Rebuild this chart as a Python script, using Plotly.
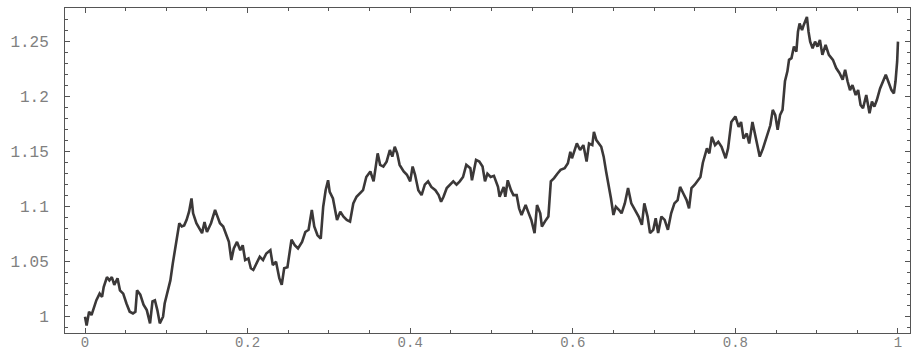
import plotly.graph_objects as go

# Path (time t, value)
t = [0.000, 0.002, 0.005, 0.008, 0.010, 0.014, 0.018, 0.021, 0.023, 0.027,
     0.030, 0.033, 0.036, 0.040, 0.043, 0.047, 0.051, 0.055, 0.059, 0.062,
     0.064, 0.068, 0.072, 0.076, 0.080, 0.083, 0.086, 0.089, 0.092, 0.096,
     0.098, 0.101, 0.105, 0.108, 0.111, 0.113, 0.116, 0.119, 0.122, 0.125,
     0.128, 0.131, 0.133, 0.137, 0.141, 0.144, 0.147, 0.150, 0.155, 0.160,
     0.163, 0.166, 0.170, 0.174, 0.177, 0.180, 0.183, 0.187, 0.191, 0.194,
     0.197, 0.201, 0.204, 0.207, 0.211, 0.215, 0.219, 0.223, 0.228, 0.231,
     0.235, 0.239, 0.242, 0.245, 0.249, 0.252, 0.254, 0.258, 0.262, 0.267,
     0.271, 0.275, 0.279, 0.282, 0.286, 0.290, 0.293, 0.296, 0.299, 0.301,
     0.305, 0.310, 0.314, 0.318, 0.322, 0.326, 0.330, 0.334, 0.338, 0.342,
     0.346, 0.351, 0.355, 0.358, 0.360, 0.363, 0.367, 0.371, 0.375, 0.378,
     0.381, 0.384, 0.387, 0.392, 0.396, 0.400, 0.403, 0.406, 0.410, 0.414,
     0.418, 0.422, 0.426, 0.431, 0.435, 0.438, 0.441, 0.445, 0.449, 0.453,
     0.457, 0.461, 0.465, 0.469, 0.474, 0.476, 0.481, 0.485, 0.489, 0.492,
     0.495, 0.499, 0.503, 0.508, 0.510, 0.515, 0.517, 0.520, 0.524, 0.527,
     0.531, 0.534, 0.537, 0.542, 0.545, 0.549, 0.553, 0.556, 0.560, 0.562,
     0.567, 0.570, 0.573, 0.577, 0.581, 0.585, 0.590, 0.594, 0.597, 0.599,
     0.605, 0.609, 0.613, 0.617, 0.620, 0.624, 0.626, 0.629, 0.635, 0.638,
     0.641, 0.644, 0.647, 0.650, 0.653, 0.657, 0.660, 0.664, 0.668, 0.672,
     0.677, 0.681, 0.685, 0.688, 0.692, 0.695, 0.699, 0.702, 0.705, 0.709,
     0.713, 0.717, 0.721, 0.725, 0.729, 0.732, 0.736, 0.740, 0.743, 0.746,
     0.750, 0.754, 0.757, 0.760, 0.765, 0.768, 0.771, 0.775, 0.779, 0.783,
     0.788, 0.791, 0.795, 0.800, 0.804, 0.807, 0.810, 0.814, 0.817, 0.821,
     0.825, 0.830, 0.834, 0.838, 0.843, 0.846, 0.849, 0.852, 0.855, 0.858,
     0.861, 0.864, 0.866, 0.869, 0.872, 0.875, 0.877, 0.879, 0.882, 0.884,
     0.888, 0.890, 0.892, 0.895, 0.898, 0.901, 0.904, 0.907, 0.911, 0.915,
     0.920, 0.924, 0.928, 0.932, 0.935, 0.938, 0.941, 0.944, 0.948, 0.951,
     0.954, 0.957, 0.961, 0.965, 0.968, 0.971, 0.974, 0.978, 0.982, 0.985,
     0.988, 0.992, 0.995, 0.997, 0.999, 1.000]

value = [1.000, 0.992, 1.0045, 1.0015, 1.006, 1.015, 1.021, 1.018, 1.027, 1.036,
         1.033, 1.036, 1.029, 1.035, 1.024, 1.021, 1.012, 1.0045, 1.003, 1.0045,
         1.024, 1.020, 1.011, 1.006, 0.994, 1.014, 1.015, 1.006, 0.994, 1.000,
         1.012, 1.021, 1.033, 1.0485, 1.064, 1.071, 1.085, 1.082, 1.083, 1.088,
         1.0955, 1.1075, 1.094, 1.085, 1.080, 1.076, 1.086, 1.077, 1.085, 1.097,
         1.091, 1.085, 1.082, 1.073, 1.068, 1.0515, 1.062, 1.068, 1.0605, 1.065,
         1.0515, 1.053, 1.044, 1.0425, 1.0485, 1.0545, 1.0515, 1.0575, 1.0605, 1.047,
         1.050, 1.035, 1.029, 1.044, 1.045, 1.0605, 1.070, 1.065, 1.062, 1.068,
         1.077, 1.079, 1.097, 1.082, 1.074, 1.071, 1.100, 1.115, 1.124, 1.1135,
         1.1075, 1.088, 1.0955, 1.091, 1.088, 1.0865, 1.103, 1.109, 1.112, 1.115,
         1.127, 1.132, 1.123, 1.138, 1.1485, 1.138, 1.1365, 1.141, 1.1515, 1.1455,
         1.1545, 1.1485, 1.138, 1.132, 1.129, 1.123, 1.1365, 1.129, 1.115, 1.1105,
         1.120, 1.123, 1.118, 1.115, 1.1105, 1.1045, 1.109, 1.117, 1.120, 1.123,
         1.120, 1.123, 1.127, 1.138, 1.135, 1.124, 1.1425, 1.141, 1.1365, 1.123,
         1.130, 1.127, 1.128, 1.118, 1.109, 1.118, 1.109, 1.124, 1.115, 1.1105,
         1.1105, 1.0985, 1.0925, 1.1015, 1.0955, 1.088, 1.076, 1.1015, 1.094, 1.082,
         1.088, 1.091, 1.123, 1.126, 1.130, 1.1335, 1.135, 1.1395, 1.150, 1.144,
         1.1575, 1.1515, 1.156, 1.141, 1.1575, 1.156, 1.168, 1.1605, 1.1545, 1.1455,
         1.132, 1.121, 1.1075, 1.0925, 1.100, 1.097, 1.094, 1.103, 1.117, 1.103,
         1.097, 1.091, 1.0835, 1.103, 1.091, 1.076, 1.079, 1.0895, 1.076, 1.091,
         1.088, 1.079, 1.094, 1.103, 1.106, 1.118, 1.112, 1.106, 1.0985, 1.117,
         1.120, 1.124, 1.127, 1.140, 1.153, 1.1485, 1.1635, 1.156, 1.159, 1.1545,
         1.144, 1.153, 1.177, 1.182, 1.1725, 1.177, 1.162, 1.1665, 1.1575, 1.177,
         1.162, 1.1455, 1.153, 1.162, 1.174, 1.188, 1.1835, 1.170, 1.1835, 1.188,
         1.214, 1.223, 1.2335, 1.235, 1.2455, 1.241, 1.259, 1.2665, 1.2605, 1.265,
         1.2725, 1.259, 1.250, 1.244, 1.250, 1.2455, 1.2515, 1.238, 1.247, 1.238,
         1.2335, 1.226, 1.2215, 1.2155, 1.2245, 1.214, 1.206, 1.2105, 1.2015, 1.206,
         1.1925, 1.1895, 1.2015, 1.185, 1.1955, 1.191, 1.197, 1.2075, 1.2155, 1.220,
         1.214, 1.206, 1.203, 1.214, 1.232, 1.250]

x_tick_vals = [0, 0.2, 0.4, 0.6, 0.8, 1]
x_tick_text = ["0", "0.2", "0.4", "0.6", "0.8", "1"]
y_tick_vals = [1, 1.05, 1.1, 1.15, 1.2, 1.25]
y_tick_text = ["1", "1.05", "1.1", "1.15", "1.2", "1.25"]

fig = go.Figure()
fig.add_trace(go.Scatter(
    x=t, y=value, mode="lines",
    line=dict(color="#3b3838", width=2.6),
    hoverinfo="skip", showlegend=False,
))

axis_common = dict(
    showgrid=False, zeroline=False, automargin=False,
    showline=True, linecolor="#555555", linewidth=1,
    mirror="allticks", ticks="inside", ticklen=5, tickcolor="#555555",
)

mono = "Liberation Mono, DejaVu Sans Mono, monospace"

fig.update_xaxes(
    range=[-0.0246, 1.0148],
    tickvals=x_tick_vals, ticktext=x_tick_text,
    minor=dict(dtick=0.05, tick0=0, ticks="inside", ticklen=3, tickcolor="#555555"),
    tickfont=dict(family=mono, size=14, color="#808080"),
    ticklabelstandoff=-4,
    **axis_common,
)
fig.update_yaxes(
    range=[0.9852, 1.2806],
    tickvals=y_tick_vals, ticktext=y_tick_text,
    minor=dict(dtick=0.01, tick0=1, ticks="inside", ticklen=3, tickcolor="#555555"),
    tickfont=dict(family=mono, size=16, color="#808080"),
    ticklabelstandoff=12,
    **axis_common,
)

fig.update_layout(
    width=912, height=354,
    margin=dict(l=65, r=2, t=8, b=21),
    paper_bgcolor="white", plot_bgcolor="white",
)

fig.write_html("out.html")
